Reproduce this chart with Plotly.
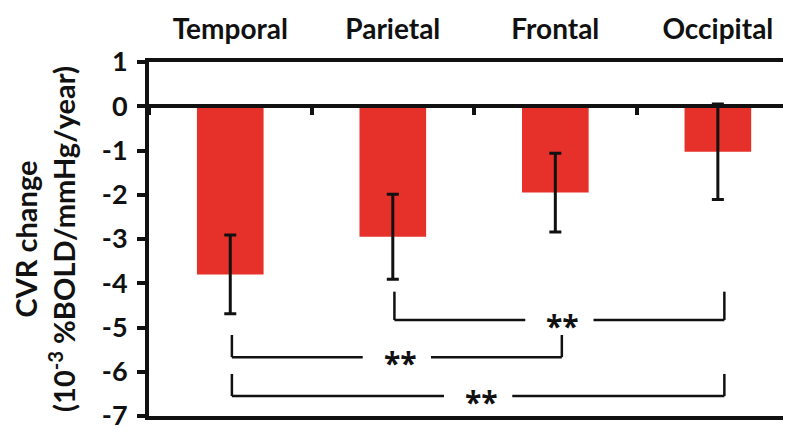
import plotly.graph_objects as go

regions = ["Temporal", "Parietal", "Frontal", "Occipital"]
cvr_change = [-3.80, -2.95, -1.95, -1.03]
cvr_sem = [0.89, 0.96, 0.89, 1.08]
y_ticks = [1, 0, -1, -2, -3, -4, -5, -6, -7]

# significance comparisons: (left index, right index, bar level, tick top)
sig_left = [1, 0, 0]
sig_right = [3, 2, 3]
sig_level = [-4.83, -5.67, -6.55]
sig_top = [-4.19, -5.17, -6.05]
sig_label = ["**", "**", "**"]

FONT = "Lato"
BLACK = "#111111"
RED = "#E6312A"

xpos = list(range(len(regions)))

fig = go.Figure()
fig.add_trace(go.Bar(
    x=xpos, y=cvr_change, width=0.41,
    marker=dict(color=RED, line=dict(width=0)),
    error_y=dict(type="data", array=cvr_sem, visible=True,
                 color=BLACK, thickness=3, width=6),
    showlegend=False,
))
# invisible traces so the helper axes get drawn
fig.add_trace(go.Scatter(x=[0], y=[0], xaxis="x2", mode="markers",
                         marker=dict(opacity=0), showlegend=False,
                         hoverinfo="skip"))
fig.add_trace(go.Scatter(x=[0], y=[0], yaxis="y2", mode="markers",
                         marker=dict(opacity=0), showlegend=False,
                         hoverinfo="skip"))

shapes = []
annotations = []
gap = 0.21
for l, r, lev, top, lab in zip(sig_left, sig_right, sig_level, sig_top, sig_label):
    xl = l + 0.01
    xr = r + 0.04
    mid = (xl + xr) / 2
    line = dict(color=BLACK, width=2.5)
    shapes.append(dict(type="line", xref="x", yref="y", x0=xl, x1=xl, y0=top, y1=lev, line=line))
    shapes.append(dict(type="line", xref="x", yref="y", x0=xr, x1=xr, y0=top, y1=lev, line=line))
    shapes.append(dict(type="line", xref="x", yref="y", x0=xl, x1=mid - gap, y0=lev, y1=lev, line=line))
    shapes.append(dict(type="line", xref="x", yref="y", x0=mid + gap, x1=xr, y0=lev, y1=lev, line=line))
    annotations.append(dict(x=mid + 0.02, y=lev - 0.12, xref="x", yref="y", text="<b>" + lab + "</b>",
                            showarrow=False, font=dict(family="Open Sans", size=30, color=BLACK)))

# the page body has an 8px margin, so the figure is sized/offset to compensate
fig.update_layout(
    width=783, height=427,
    margin=dict(l=141, r=0, t=54, b=19, autoexpand=False),
    paper_bgcolor="white", plot_bgcolor="white",
    bargap=0.59,
    shapes=shapes, annotations=annotations,
    xaxis=dict(
        range=[-0.5, 3.45], side="top", automargin=False,
        tickmode="array", tickvals=xpos,
        ticktext=["<b>%s</b>" % r for r in regions],
        tickfont=dict(family=FONT, size=28, color=BLACK),
        ticks="outside", ticklen=8, tickcolor="rgba(0,0,0,0)",
        showline=True, linecolor=BLACK, linewidth=4, mirror=True,
        showgrid=False, zeroline=False, fixedrange=True,
    ),
    xaxis2=dict(
        range=[-0.5, 3.45], overlaying="x", anchor="free", position=0.875,
        side="bottom", automargin=False,
        tickmode="array", tickvals=[-0.5, 0.5, 1.5, 2.5, 3.5],
        ticks="outside", ticklen=7, tickwidth=4, tickcolor=BLACK,
        showticklabels=False,
        showline=True, linecolor=BLACK, linewidth=4,
        showgrid=False, zeroline=False,
    ),
    yaxis=dict(
        range=[-7, 1], tickmode="array", tickvals=y_ticks, automargin=False,
        ticks="outside", ticklen=8, tickwidth=4, tickcolor=BLACK,
        showticklabels=False,
        showline=True, linecolor=BLACK, linewidth=4,
        showgrid=False, zeroline=False,
    ),
    yaxis2=dict(
        range=[-7, 1], overlaying="y", side="left", automargin=False,
        tickmode="array", tickvals=y_ticks,
        ticktext=["<b>%d</b>" % v for v in y_ticks],
        tickfont=dict(family=FONT, size=27, color=BLACK),
        ticks="outside", ticklen=15, tickcolor="rgba(0,0,0,0)",
        showline=False, showgrid=False, zeroline=False,
        title=dict(text="<b>CVR change</b><br><b>(10<sup>-3</sup> %BOLD/mmHg/year)</b>",
                   font=dict(family=FONT, size=29, color=BLACK), standoff=22),
    ),
)

fig.write_html("out.html")
